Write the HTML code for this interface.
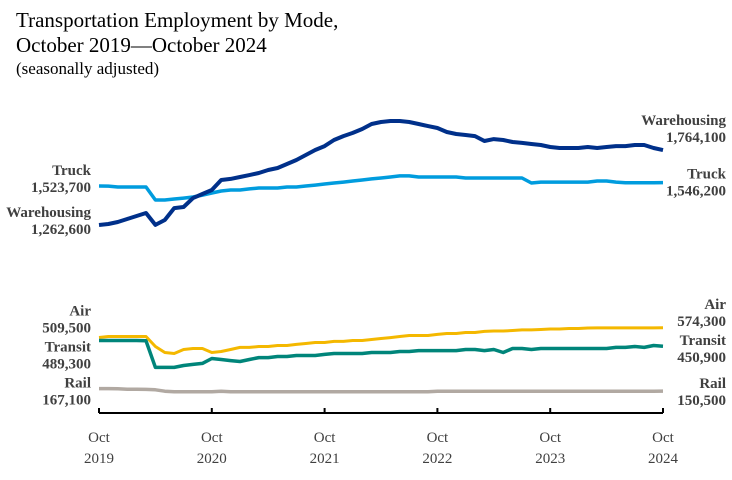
<!DOCTYPE html>
<html><head><meta charset="utf-8"><style>
body{margin:0;background:#fff;width:732px;height:480px;overflow:hidden;font-family:"Liberation Serif",serif;}
.t{position:absolute;left:16px;color:#000;}
svg{position:absolute;left:0;top:0}
</style></head><body>
<div class="t" style="top:8px;font-size:21px;line-height:25px;">Transportation Employment by Mode,<br>October 2019—October 2024</div>
<div class="t" style="top:59px;font-size:17px;">(seasonally adjusted)</div>
<svg id="chart" width="732" height="480"></svg>
<script>
const months = 61;
const tickLabels = ["2019","2020","2021","2022","2023","2024"];
const warehousing = [1262.6,1269,1283,1303,1323,1343,1263,1296,1376,1383,1443,1470,1497,1564,1571,1584,1597,1611,1631,1644,1671,1698,1731,1765,1791,1832,1858,1879,1905,1939,1952,1959,1959,1952,1939,1925,1912,1885,1872,1865,1858,1825,1838,1832,1818,1812,1805,1798,1785,1778,1778,1778,1785,1778,1785,1791,1791,1798,1798,1778,1764.1];
const truck = [1523.7,1523,1517,1517,1517,1517,1430,1430,1437,1443,1450,1463,1477,1490,1497,1497,1504,1510,1510,1510,1517,1517,1524,1530,1537,1544,1550,1557,1564,1571,1577,1584,1591,1591,1584,1584,1584,1584,1584,1577,1577,1577,1577,1577,1577,1577,1544,1550,1550,1550,1550,1550,1550,1557,1557,1550,1546,1546,1546,1546,1546.2];
const air = [509.5,516,516,516,516,516,449,409,402,429,436,436,409,416,429,443,443,449,449,456,456,463,469,476,476,483,483,489,489,496,503,509,516,523,523,523,530,536,536,543,543,550,553,553,556,560,560,563,566,566,570,570,573,574,574,574,574,574,574,574,574.3];
const transit = [489.3,489,489,489,489,487,309,309,309,322,329,336,369,362,355,349,362,375,375,382,382,389,389,389,396,402,402,402,402,409,409,409,416,416,422,422,422,422,422,429,429,422,429,409,436,436,429,436,436,436,436,436,436,436,436,443,443,449,443,456,450.9];
const rail = [167.1,167,166,163,163,162,159,150,146,146,146,146,146,150,146,146,146,146,146,146,146,146,146,146,146,146,146,146,146,146,146,146,146,146,146,146,149,150,150,150,150,150,150,150,150,150,150,150,150,150,150,150,150,150,150,150,150,150,150,150,150.5];
const seriesNames = ["rail","air","transit","truck","warehousing"];
const startLabels = ["Rail\n167,100","Air\n509,500","Transit\n489,300","Truck\n1,523,700","Warehousing\n1,262,600"];
const endLabels = ["Rail\n150,500","Air\n574,300","Transit\n450,900","Truck\n1,546,200","Warehousing\n1,764,100"];

const svg = document.getElementById('chart');
const NS = 'http://www.w3.org/2000/svg';
const x0 = 99, x1 = 663;
const xScale = i => x0 + (x1 - x0) * i / (months - 1);
const yScale = v => 225 - (v - 1262.6) / 6.695;
const colors = {rail:"#B1A9A2",air:"#F4B800",transit:"#00857A",truck:"#009CDE",warehousing:"#00308A"};
const widths = {rail:3.5,air:3,transit:3.5,truck:3.5,warehousing:4};
const data = {rail,air,transit,truck,warehousing};

function mk(tag, attrs){const e=document.createElementNS(NS,tag);for(const k in attrs)e.setAttribute(k,attrs[k]);svg.appendChild(e);return e;}

const axisY = 413;
const ax = mk('line',{x1:x0,x2:x1,y1:axisY,y2:axisY,stroke:'#000','stroke-width':2});


tickLabels.forEach((yr,k)=>{
  const x = xScale(k*12);
  const t = mk('line',{x1:x,x2:x,y1:axisY-5,y2:axisY,stroke:'#000','stroke-width':2});
  
  
  const l = mk('text',{x:x,y:442,'text-anchor':'middle','font-size':15,'font-family':'Liberation Serif, serif',fill:'#404040'});
  
  
  const a = document.createElementNS(NS,'tspan');a.setAttribute('x',x);a.textContent='Oct';l.appendChild(a);
  const b = document.createElementNS(NS,'tspan');b.setAttribute('x',x);b.setAttribute('dy','21');b.textContent=yr;l.appendChild(b);
});

function label(txt, x, y, anchor, name){
  const parts = txt.split('\n');
  const t = mk('text',{x:x,y:y,'text-anchor':anchor,'font-size':15,'font-weight':'bold','font-family':'Liberation Serif, serif',fill:'#404040'});
  
  
  parts.forEach((p,i)=>{const s=document.createElementNS(NS,'tspan');s.setAttribute('x',x);if(i)s.setAttribute('dy','17');s.textContent=p;t.appendChild(s);});
}
const startOff = {rail:-1,air:-22,transit:11,truck:-11,warehousing:-8};
const endOff = {rail:-3,air:-19,transit:-1,truck:-4,warehousing:-25};

seriesNames.forEach((n,si)=>{
  const d = data[n];
  const pts = d.map((v,i)=>xScale(i).toFixed(1)+','+yScale(v).toFixed(1)).join(' ');
  const p = mk('polyline',{points:pts,fill:'none',stroke:colors[n],'stroke-width':widths[n],'stroke-linejoin':'round'});
  
  
  label(startLabels[si], 91, yScale(d[0])+startOff[n], 'end', n+'-start-label');
  label(endLabels[si], 726, yScale(d[d.length-1])+endOff[n], 'end', n+'-end-label');
});
</script>
</body></html>
